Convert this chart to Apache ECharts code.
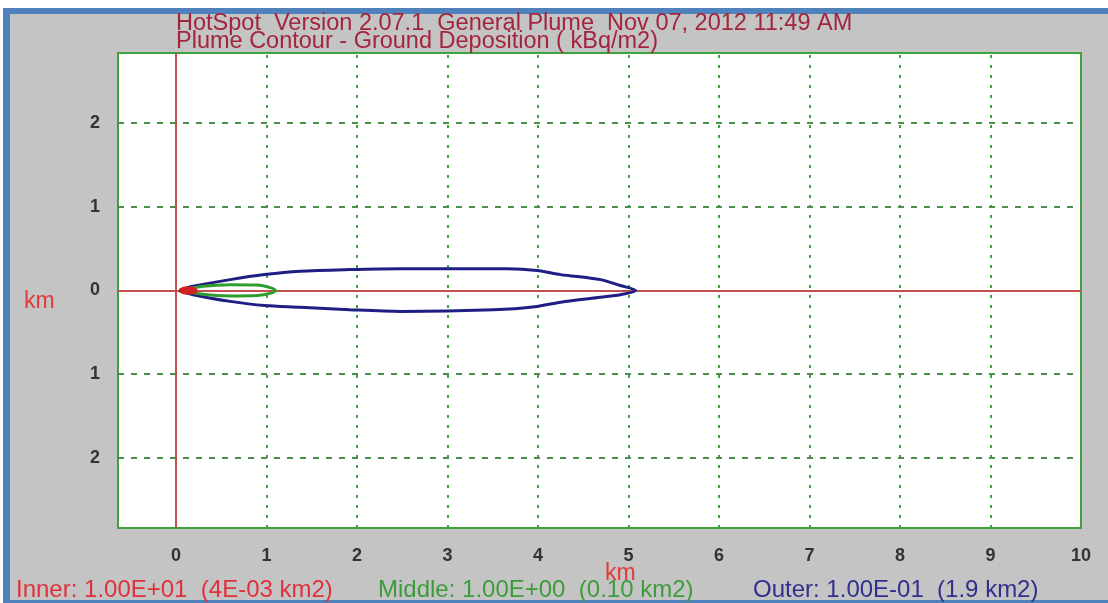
<!DOCTYPE html>
<html>
<head>
<meta charset="utf-8">
<script src="https://cdn.jsdelivr.net/npm/echarts@6/dist/echarts.min.js"></script>
<style>
html, body { margin: 0; padding: 0; background: #fff; }
#chart { width: 1108px; height: 603px; }
</style>
</head>
<body>
<div id="chart"></div>
<script>
// 轴刻度
const xTicks = [0, 1, 2, 3, 4, 5, 6, 7, 8, 9, 10];
const yTicks = [-2, -1, 0, 1, 2];
const gridX = [1, 2, 3, 4, 5, 6, 7, 8, 9];
const gridY = [-2, -1, 1, 2];

// 等值线 (km)
const outerTop = [[0.04, 0], [0.19, 0.05], [0.6, 0.13], [0.98, 0.19], [1.37, 0.23], [1.92, 0.25],
  [2.48, 0.26], [3.66, 0.26], [3.99, 0.24], [4.25, 0.19], [4.69, 0.13], [4.91, 0.06], [5.08, 0]];
const outerBottom = [[4.91, -0.05], [4.69, -0.08], [4.25, -0.14], [3.99, -0.19], [3.51, -0.23],
  [2.48, -0.25], [1.92, -0.23], [1.37, -0.2], [0.98, -0.18], [0.6, -0.13], [0.19, -0.05], [0.04, 0]];
const middleTop = [[0.06, 0], [0.3, 0.05], [0.6, 0.07], [0.9, 0.065], [1.04, 0.035], [1.1, 0]];
const middleBottom = [[1.04, -0.035], [0.9, -0.06], [0.6, -0.065], [0.3, -0.045], [0.06, 0]];
const innerTop = [[0.05, 0], [0.1, 0.025], [0.17, 0.025], [0.22, 0]];
const innerBottom = [[0.17, -0.025], [0.1, -0.025], [0.05, 0]];

const titleLines = [
  'HotSpot  Version 2.07.1  General Plume  Nov 07, 2012 11:49 AM',
  'Plume Contour - Ground Deposition ( kBq/m2)'
];
const legendTexts = [
  'Inner: 1.00E+01  (4E-03 km2)',
  'Middle: 1.00E+00  (0.10 km2)',
  'Outer: 1.00E-01  (1.9 km2)'
];

const chart = echarts.init(document.getElementById('chart'));

const font = 'Liberation Sans, Arial, sans-serif';
const contour = (name, top, bottom, color, width) => ({
  name: name,
  type: 'line',
  data: top.concat(bottom),
  symbol: 'none',
  smooth: 0.3,
  z: 5,
  lineStyle: { color: color, width: width },
  silent: true
});

const option = {
  animation: false,
  backgroundColor: '#ffffff',
  graphic: [
    { type: 'rect', shape: { x: 3, y: 8, width: 1105, height: 595 }, style: { fill: '#4f81bd' }, z: -10 },
    { type: 'rect', shape: { x: 10, y: 14, width: 1098, height: 586 }, style: { fill: '#c4c4c4' }, z: -9 },
    { type: 'text', left: 176, top: 12, style: { text: titleLines[0], fill: '#a3253d', font: '23.5px ' + font } },
    { type: 'text', left: 176, top: 30, style: { text: titleLines[1], fill: '#a3253d', font: '23.5px ' + font } },
    { type: 'text', left: 24, top: 290, style: { text: 'km', fill: '#e03a3a', font: '23px ' + font } },
    { type: 'text', left: 605, top: 562, style: { text: 'km', fill: '#e03a3a', font: '23px ' + font } },
    { type: 'text', left: 16, top: 578, style: { text: legendTexts[0], fill: '#e0303c', font: '24px ' + font } },
    { type: 'text', left: 378, top: 578, style: { text: legendTexts[1], fill: '#3c9c3c', font: '24px ' + font } },
    { type: 'text', left: 753, top: 578, style: { text: legendTexts[2], fill: '#30308c', font: '24px ' + font } }
  ],
  grid: {
    left: 118, right: 27, top: 53, bottom: 75,
    show: true,
    backgroundColor: '#ffffff',
    borderColor: '#3ea33e',
    borderWidth: 2
  },
  xAxis: {
    type: 'value',
    min: -0.64,
    max: 10,
    axisLine: { show: false },
    axisTick: { show: false, customValues: xTicks },
    splitLine: { show: false },
    axisLabel: {
      customValues: xTicks,
      margin: 19,
      color: '#333',
      fontSize: 18,
      fontWeight: 'bold',
      fontFamily: font
    }
  },
  yAxis: {
    type: 'value',
    min: -2.84,
    max: 2.84,
    axisLine: { show: false },
    axisTick: { show: false, customValues: yTicks },
    splitLine: { show: false },
    axisLabel: {
      customValues: yTicks,
      margin: 18,
      color: '#333',
      fontSize: 18,
      fontWeight: 'bold',
      fontFamily: font,
      formatter: v => String(Math.abs(v))
    }
  },
  series: [
    {
      // 网格线
      type: 'line',
      data: [],
      silent: true,
      z: 2,
      markLine: {
        silent: true,
        symbol: 'none',
        animation: false,
        label: { show: false },
        data: gridX.map(v => ({ xAxis: v, lineStyle: { color: '#3ea33e', width: 2, type: [3, 7] } }))
          .concat(gridY.map(v => ({ yAxis: v, lineStyle: { color: '#4a8f4a', width: 2, type: [6, 7] } })))
      }
    },
    {
      // 坐标轴 0 线
      type: 'line',
      data: [],
      silent: true,
      z: 3,
      markLine: {
        silent: true,
        symbol: 'none',
        animation: false,
        label: { show: false },
        lineStyle: { color: '#c2504f', width: 2, type: 'solid' },
        data: [{ xAxis: 0 }, { yAxis: 0 }]
      }
    },
    contour('Outer', outerTop, outerBottom, '#1e1e84', 3),
    contour('Middle', middleTop, middleBottom, '#2f9e2f', 3),
    contour('Inner', innerTop, innerBottom, '#d42020', 4)
  ]
};

chart.setOption(option);
</script>
</body>
</html>
